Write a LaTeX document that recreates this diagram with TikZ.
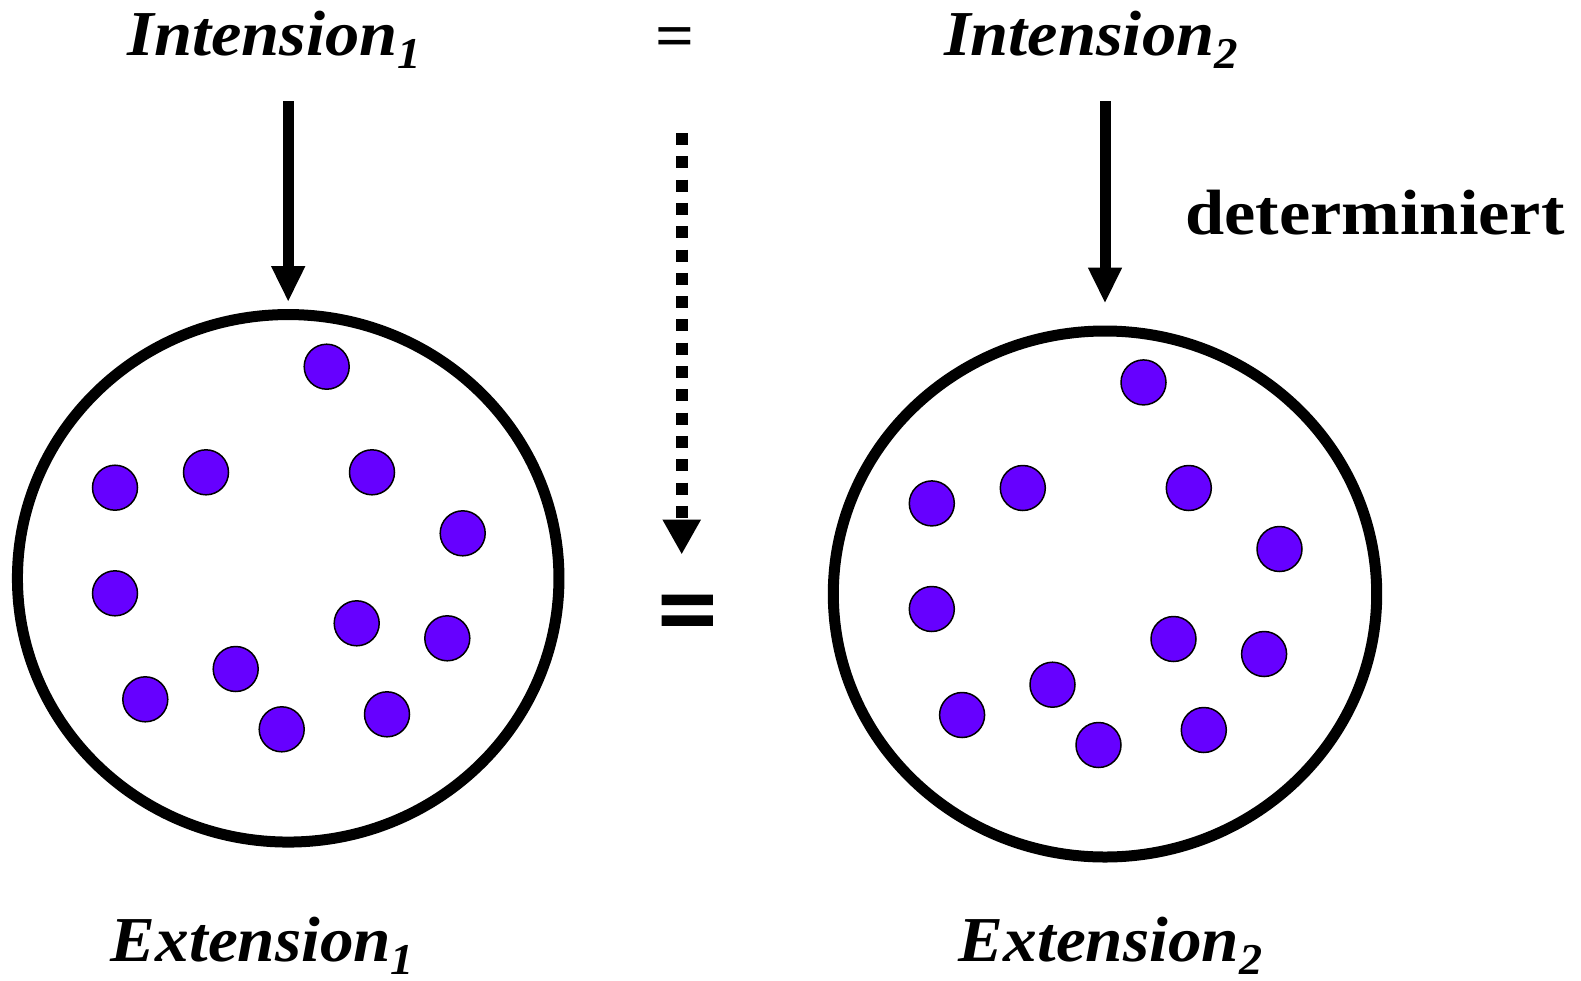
\documentclass[tikz,border=0pt]{standalone}
\usepackage{fontspec}
\setmainfont{Liberation Serif}
\newfontfamily\lblfont[FakeStretch=1.07]{Liberation Serif}
\newfontfamily\extfont[FakeStretch=1.05]{Liberation Serif}
\newfontfamily\detfont[FakeStretch=1.1]{Liberation Serif}
\newfontfamily\eqfont[FakeBold=3]{Liberation Serif}
\usetikzlibrary{arrows.meta,shapes.geometric}
\definecolor{dotfill}{RGB}{102,0,255}
\newcommand{\mysub}[1]{\raisebox{-13pt}[0pt][0pt]{\fontsize{44}{44}\selectfont #1}}
\begin{document}
\begin{tikzpicture}[x=1pt,y=-1pt,
  lbl/.style={font=\lblfont\fontsize{64}{72}\selectfont\bfseries\itshape, inner sep=0pt, anchor=base},
  extlbl/.style={font=\extfont\fontsize{64}{72}\selectfont\bfseries\itshape, inner sep=0pt, anchor=base},
  det/.style={font=\detfont\fontsize{64}{72}\selectfont\bfseries, inner sep=0pt, anchor=base},
  eqsign/.style={inner sep=0pt, anchor=center},
  setring/.style={draw, ellipse, line width=11pt, inner sep=0pt},
  dot/.style={circle, draw, line width=1.5pt, fill=dotfill, minimum size=45pt, inner sep=0pt},
  bigarrow/.style={line width=11pt, -{Triangle[width=31.5pt,length=36pt]}},
  dotarrow/.style={line width=12pt, dash pattern=on 12pt off 11.3pt, -{Triangle[width=36pt,length=35pt]}}
]
\useasboundingbox (0,0) rectangle (1581,980);

% labels
\node[lbl] (int1) at (274.5,55.5) {Intension\mysub{1}};
\node[lbl] (int2) at (1091,55.5) {Intension\mysub{2}};
\node[extlbl] (ext1) at (262.5,961) {Extension\mysub{1}};
\node[extlbl] (ext2) at (1110.5,961) {Extension\mysub{2}};
\node[det] (det) at (1375,234) {determiniert};
\node[eqsign, font=\lblfont\bfseries\fontsize{64}{64}\selectfont] (eqtop) at (675,42.5) {=};
\node[eqsign, font=\eqfont\bfseries\fontsize{104}{104}\selectfont] (eqbot) at (687.5,620.5) {=};

% sets
\node[setring, minimum width=541.5pt, minimum height=527.5pt] (e1) at (288.2,578.3) {};
\node[setring, minimum width=543.4pt, minimum height=526pt] (e2) at (1105,594) {};

% elements
\foreach \e/\cx/\cy in {1/288.2/578.3, 2/1105/594}{
  \foreach \i/\dx/\dy in {1/38.5/-211.6, 2/-82.2/-106, 3/83.8/-106, 4/-173.2/-90.6,
      5/174.5/-45, 6/-173.2/15, 7/68.5/45, 8/159.1/60, 9/-52.5/90.7,
      10/-142.9/121, 11/98.8/136, 12/-6.5/151}{
    \node[dot] (d\e-\i) at (\cx+\dx,\cy+\dy) {};
  }
}

% arrows
\coordinate (s1) at (288.2,101);
\coordinate (s2) at (1105,101);
\coordinate (s3) at (681.7,133);
\draw[bigarrow, shorten >=7pt] (s1) -- (e1.north);
\draw[bigarrow, shorten >=22pt] (s2) -- (e2.north);
\draw[dotarrow] (s3) -- (s3 |- 0,554.5) coordinate (t3);
\end{tikzpicture}
\end{document}
